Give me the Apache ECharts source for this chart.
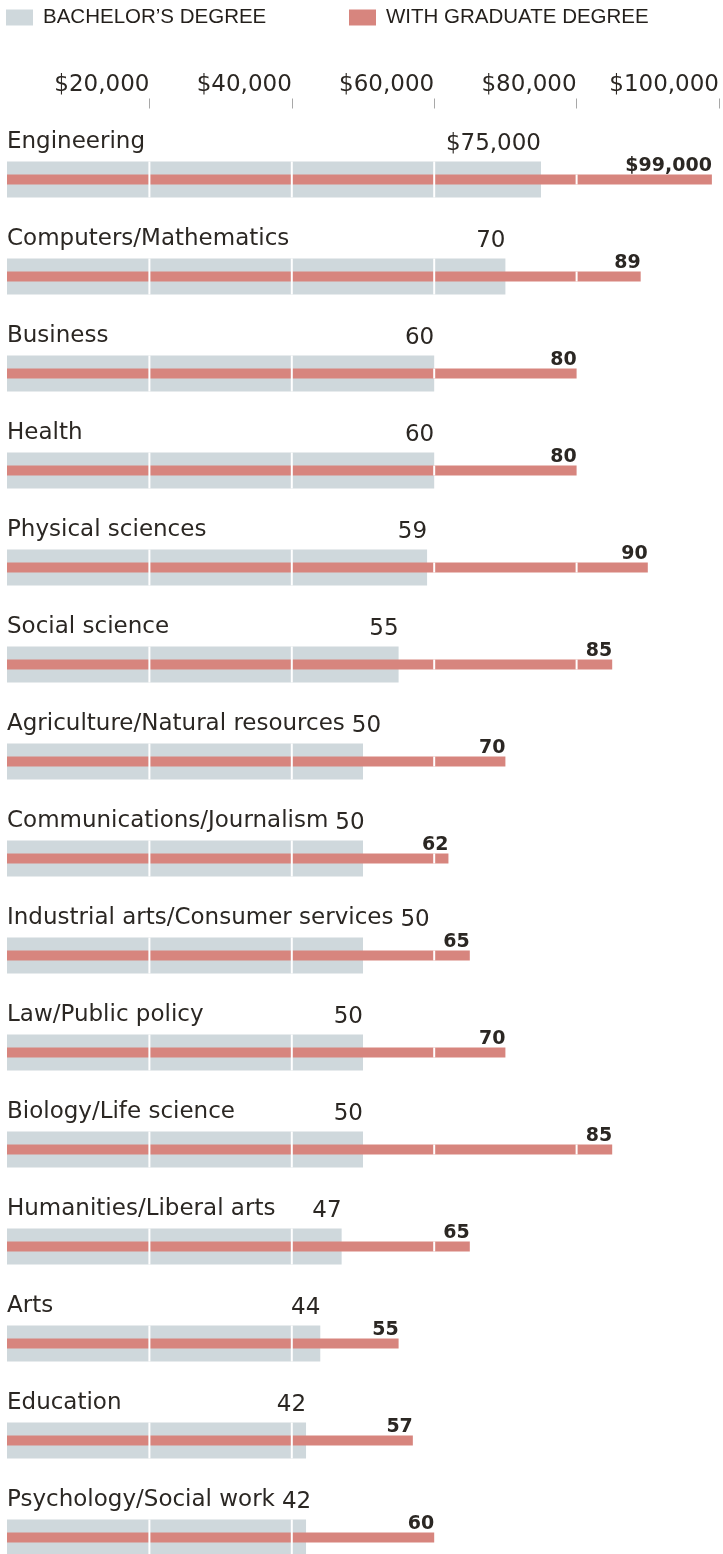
<!DOCTYPE html>
<html>
<head>
<meta charset="utf-8">
<script src="https://cdn.jsdelivr.net/npm/echarts@6/dist/echarts.min.js"></script>
<style>
html,body{margin:0;padding:0;background:#fff;}
#c{width:723px;height:1554px;}
</style>
</head>
<body>
<div id="c"></div>
<script>
const categories = ['Engineering','Computers/Mathematics','Business','Health','Physical sciences','Social science','Agriculture/Natural resources','Communications/Journalism','Industrial arts/Consumer services','Law/Public policy','Biology/Life science','Humanities/Liberal arts','Arts','Education','Psychology/Social work'];
const bachelor = [75000,70000,60000,60000,59000,55000,50000,50000,50000,50000,50000,47000,44000,42000,42000];
const graduate = [99000,89000,80000,80000,90000,85000,70000,62000,65000,70000,85000,65000,55000,57000,60000];
const tickValues = [20000,40000,60000,80000,100000];
const seriesNames = ['BACHELOR\u2019S DEGREE','WITH GRADUATE DEGREE'];

const FONT = 'DejaVu Sans';
const TEXT = '#2b2723';
const GRAY = '#cfd8dc';
const RED = '#d7857e';
const NAME_SIZE = 23;
const VAL_SIZE = 23;

const fmtMoney = v => '$' + Number(v).toLocaleString('en-US');
const fmtShort = (v, i) => i === 0 ? fmtMoney(v) : String(v / 1000);

const chart = echarts.init(document.getElementById('c'), null, {renderer: 'canvas'});

function renderLines(params, api) {
  const idx = api.value(0), b = api.value(1), g = api.value(2);
  const children = [];
  tickValues.forEach(t => {
    const pt = api.coord([t, idx]);
    if (t < b) {
      children.push({type: 'rect', shape: {x: pt[0] - 1, y: pt[1] - 18, width: 2, height: 36}, style: {fill: '#ffffff'}});
    } else if (t < g) {
      children.push({type: 'rect', shape: {x: pt[0] - 1, y: pt[1] - 5, width: 2, height: 10}, style: {fill: '#ffffff'}});
    }
  });
  return {type: 'group', children};
}

const legendText = {fontFamily: 'Liberation Sans', fontSize: 20.5, color: '#231f1b', padding: [0, 0, 0, 5]};

const option = {
  animation: false,
  backgroundColor: '#ffffff',
  legend: [
    {data: [seriesNames[0]], left: 6, top: 7, padding: 0, icon: 'rect', itemWidth: 27, itemHeight: 16, itemGap: 0, selectedMode: false, textStyle: legendText},
    {data: [seriesNames[1]], left: 349, top: 7, padding: 0, icon: 'rect', itemWidth: 27, itemHeight: 16, itemGap: 0, selectedMode: false, textStyle: legendText}
  ],
  grid: {left: 7, right: 4, top: 179.5, bottom: 16.5},
  xAxis: {
    type: 'value', position: 'top', min: 0, max: 100000, interval: 20000, offset: 71,
    axisLine: {show: false},
    axisTick: {show: true, length: 10, customValues: tickValues, lineStyle: {color: '#a8a8a8', width: 1}},
    axisLabel: {customValues: tickValues, formatter: fmtMoney, align: 'right', margin: 12, fontFamily: FONT, fontSize: VAL_SIZE, color: TEXT},
    splitLine: {show: false}
  },
  yAxis: [
    {
      type: 'category', data: categories, inverse: true, boundaryGap: false,
      axisLine: {show: false}, axisTick: {show: false}, splitLine: {show: false},
      axisLabel: {inside: true, margin: 0, interval: 0, align: 'left', verticalAlign: 'bottom', lineHeight: 26, padding: [0, 0, 24, 0], fontFamily: FONT, fontSize: NAME_SIZE, color: TEXT}
    },
    {type: 'category', data: categories, inverse: true, boundaryGap: false, show: false}
  ],
  series: [
    {
      name: seriesNames[0], type: 'bar', yAxisIndex: 0, data: bachelor, barWidth: 36, clip: false, z: 2,
      itemStyle: {color: GRAY},
      label: {show: true, position: ['100%', 0], align: 'right', verticalAlign: 'bottom', offset: [0, -6],
        formatter: p => fmtShort(p.value, p.dataIndex), fontFamily: FONT, fontSize: VAL_SIZE, color: TEXT}
    },
    {
      name: seriesNames[1], type: 'bar', yAxisIndex: 1, data: graduate, barWidth: 10, clip: false, z: 3,
      itemStyle: {color: RED},
      label: {show: true, position: ['100%', 0], align: 'right', verticalAlign: 'bottom', offset: [0, 1],
        formatter: p => fmtShort(p.value, p.dataIndex), fontFamily: FONT, fontWeight: 'bold', fontSize: 19, color: TEXT}
    },
    {
      type: 'custom', yAxisIndex: 0, z: 4, silent: true,
      data: categories.map((c, i) => [i, bachelor[i], graduate[i]]),
      encode: {x: [1, 2], y: 0},
      renderItem: renderLines
    }
  ]
};
chart.setOption(option);

// push bachelor value labels right when they would collide with the category name
const ctx = document.createElement('canvas').getContext('2d');
function textW(s, size, weight) { ctx.font = (weight || 'normal') + ' ' + size + 'px "' + FONT + '"'; return ctx.measureText(s).width; }
const bachData = bachelor.map((v, i) => {
  const barEnd = chart.convertToPixel({gridIndex: 0}, [v, i])[0];
  const nameEnd = 7 + textW(categories[i], NAME_SIZE);
  const valW = textW(fmtShort(v, i), VAL_SIZE);
  const dx = Math.max(0, nameEnd + 7 - (barEnd - valW));
  return {value: v, label: {offset: [dx, -6]}};
});
chart.setOption({series: [{data: bachData}]});
</script>
</body>
</html>
